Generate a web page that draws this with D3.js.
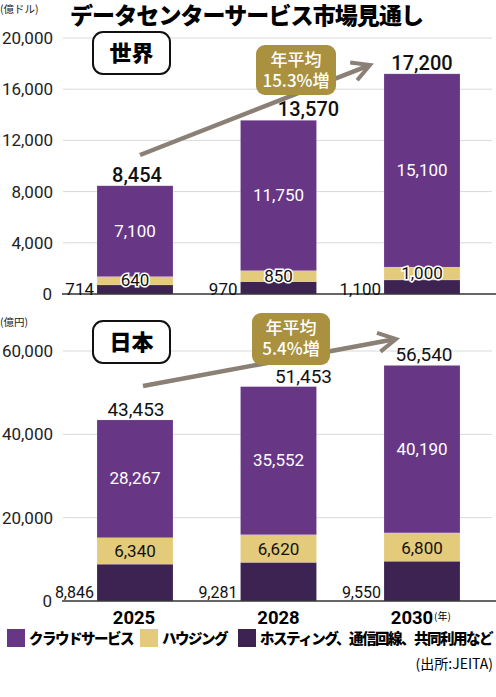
<!DOCTYPE html>
<meta charset="UTF-8">
<style>
  body { margin: 0; background: #fff; }
  svg { display: block; }
  text { font-family: "Noto Sans CJK JP", "Noto Sans", sans-serif; }
  .grid { stroke: #d9d9d9; stroke-width: 1; }
  .base { stroke: #333; stroke-width: 1.5; }
  .tick { font-family: Roboto, "Noto Sans", sans-serif; font-size: 17px; fill: #222; }
  .unit { font-size: 10.5px; fill: #222; }
</style>
<body>
<script src="https://d3js.org/d3.v7.min.js"></script>
<script>

// data
var years = ["2025", "2028", "2030"];
var seriesNames = ["クラウドサービス", "ハウジング", "ホスティング、通信回線、共同利用など"];

var worldHosting = [714, 970, 1100];
var worldHousing = [640, 850, 1000];
var worldCloud = [7100, 11750, 15100];
var worldTicks = [0, 4000, 8000, 12000, 16000, 20000];

var japanHosting = [8846, 9281, 9550];
var japanHousing = [6340, 6620, 6800];
var japanCloud = [28267, 35552, 40190];
var japanTicks = [0, 20000, 40000, 60000];

var colors = { cloud: "#673785", housing: "#e4ca7b", hosting: "#3c2352" };

var W = 496, H = 697;
var svg = d3.select("body").append("svg")
    .attr("width", W)
    .attr("height", H);

var fmt = d3.format(",");

// title
svg.append("text")
    .attr("x", 70).attr("y", 24)
    .style("font-size", "23px").style("font-weight", 900)
    .style("letter-spacing", "-0.9px")
    .text("データセンターサービス市場見通し");

var x = d3.scalePoint().domain(years).range([135, 422]);
var barW = 76;

function panel(opt) {
  var y = d3.scaleLinear().domain([0, opt.max]).range([opt.y0, opt.y1]);
  var g = svg.append("g");

  // unit
  g.append("text").attr("class", "unit")
      .attr("x", 0).attr("y", opt.unitY).text(opt.unit);

  // grid + ticks
  g.selectAll("line.grid").data(opt.ticks.filter(function(d) { return d > 0; }))
    .enter().append("line").attr("class", "grid")
      .attr("x1", 63).attr("x2", 492)
      .attr("y1", function(d) { return y(d); })
      .attr("y2", function(d) { return y(d); });

  g.selectAll("text.tick").data(opt.ticks)
    .enter().append("text").attr("class", "tick")
      .attr("x", function(d) { return d === 0 ? 52 : 53; })
      .attr("y", function(d) { return y(d) + 6; })
      .attr("text-anchor", "end")
      .text(function(d) { return fmt(d); });

  // stacked bars
  var rows = years.map(function(yr, i) {
    return { year: yr, hosting: opt.hosting[i], housing: opt.housing[i], cloud: opt.cloud[i] };
  });
  var stack = d3.stack().keys(["hosting", "housing", "cloud"])(rows);

  var layer = g.selectAll("g.layer").data(stack).enter().append("g")
      .attr("fill", function(d) { return colors[d.key]; });

  layer.selectAll("rect").data(function(d) { return d; })
    .enter().append("rect")
      .attr("x", function(d) { return x(d.data.year) - barW / 2; })
      .attr("width", barW)
      .attr("y", function(d) { return y(d[1]); })
      .attr("height", function(d) { return y(d[0]) - y(d[1]); })
      .attr("stroke", "rgba(255,255,255,0.25)")
      .attr("stroke-width", 0.6);

  // base line
  g.append("line").attr("class", "base")
      .attr("x1", 62).attr("x2", 496)
      .attr("y1", opt.y0).attr("y2", opt.y0);

  // hosting labels, left of bars
  g.selectAll("text.host").data(stack[0]).enter().append("text")
      .attr("x", function(d) { return x(d.data.year) - barW / 2 - 3; })
      .attr("y", opt.y0 + opt.hostDy)
      .attr("text-anchor", "end")
      .style("font-family", "Roboto, sans-serif")
      .style("font-size", opt.hostSize)
      .attr("fill", "#111")
      .text(function(d) { return fmt(d.data.hosting); });

  // housing labels
  g.selectAll("text.house").data(stack[1]).enter().append("text")
      .attr("x", function(d) { return x(d.data.year); })
      .attr("y", function(d) { return (y(d[0]) + y(d[1])) / 2 + opt.houseDy; })
      .attr("text-anchor", "middle")
      .attr("dominant-baseline", "middle")
      .style("font-family", "Roboto, sans-serif")
      .style("font-size", "17px")
      .attr("fill", "#111")
      .attr("stroke", opt.halo ? "#fff" : "none")
      .attr("stroke-width", 3)
      .attr("paint-order", "stroke")
      .text(function(d) { return fmt(d.data.housing); });

  // cloud labels
  g.selectAll("text.cloud").data(stack[2]).enter().append("text")
      .attr("x", function(d) { return x(d.data.year); })
      .attr("y", function(d) { return (y(d[0]) + y(d[1])) / 2 + 1; })
      .attr("text-anchor", "middle")
      .attr("dominant-baseline", "middle")
      .style("font-family", "Roboto, sans-serif")
      .style("font-size", "17px")
      .attr("fill", "#fff")
      .text(function(d) { return fmt(d.data.cloud); });

  // totals
  g.selectAll("text.total").data(stack[2]).enter().append("text")
      .attr("x", function(d, i) { return x(d.data.year) + opt.totalShift[i]; })
      .attr("y", function(d) { return y(d[1]) - 4; })
      .attr("text-anchor", "middle")
      .style("font-family", "Roboto, sans-serif")
      .style("font-size", opt.totalSize)
      .style("font-weight", opt.totalWeight)
      .attr("fill", "#111")
      .text(function(d) { return fmt(d[1]); });

  // region box
  g.append("rect")
      .attr("x", 93).attr("y", opt.boxY).attr("width", 77).attr("height", 42)
      .attr("rx", 10).attr("fill", "#fff").attr("stroke", "#111").attr("stroke-width", 2);
  g.append("text")
      .attr("x", 131.5).attr("y", opt.boxY + 29)
      .attr("text-anchor", "middle")
      .style("font-size", "22px").style("font-weight", 900)
      .text(opt.region);

  // growth arrow
  var a = opt.arrow;
  var ang = Math.atan2(a[3] - a[1], a[2] - a[0]);
  var hl = 20, hs = 0.5;
  g.append("path")
      .attr("d", "M" + a[0] + "," + a[1] + "L" + (a[2] - 3 * Math.cos(ang)) + "," + (a[3] - 3 * Math.sin(ang)))
      .attr("stroke", "#8b8075").attr("stroke-width", 4.5).attr("fill", "none");
  g.append("path")
      .attr("d", "M" + (a[2] - hl * Math.cos(ang - hs)) + "," + (a[3] - hl * Math.sin(ang - hs)) +
                 "L" + a[2] + "," + a[3] +
                 "L" + (a[2] - hl * Math.cos(ang + hs)) + "," + (a[3] - hl * Math.sin(ang + hs)))
      .attr("stroke", "#8b8075").attr("stroke-width", 4).attr("fill", "none")
      .attr("stroke-linejoin", "miter");

  // growth badge
  var b = opt.badge;
  g.append("rect")
      .attr("x", b[0]).attr("y", b[1]).attr("width", b[2]).attr("height", b[3])
      .attr("rx", 9).attr("fill", "#a9913f");
  g.append("text")
      .attr("x", b[0] + b[2] / 2).attr("y", b[1] + 21)
      .attr("text-anchor", "middle").attr("fill", "#fff")
      .style("font-size", "17px").style("font-weight", 500)
      .text("年平均");
  g.append("text")
      .attr("x", b[0] + b[2] / 2).attr("y", b[1] + 42)
      .attr("text-anchor", "middle").attr("fill", "#fff")
      .style("font-size", "17px").style("font-weight", 500)
      .text(opt.rate);
}

panel({
  max: 20000, y0: 294, y1: 38, ticks: worldTicks,
  hosting: worldHosting, housing: worldHousing, cloud: worldCloud,
  unit: "(億ドル)", unitY: 13, region: "世界", boxY: 32,
  hostDy: 1, hostSize: "17px", houseDy: 1, halo: true,
  totalShift: [2, 30, 0], totalSize: "20px", totalWeight: 500,
  arrow: [140, 155, 370, 65], badge: [256, 45, 80, 50], rate: "15.3%増"
});

panel({
  max: 60000, y0: 601, y1: 351, ticks: japanTicks,
  hosting: japanHosting, housing: japanHousing, cloud: japanCloud,
  unit: "(億円)", unitY: 326, region: "日本", boxY: 321,
  hostDy: -3, hostSize: "16px", houseDy: 2, halo: false,
  totalShift: [1, 25, 2], totalSize: "19px", totalWeight: 400,
  arrow: [143, 386, 396, 339], badge: [252, 313, 78, 52], rate: "5.4%増"
});

// x labels (2030 nudged left to leave room for the unit)
var yearShift = [-1, 0, -10];
svg.selectAll("text.year").data(years).enter().append("text")
    .attr("x", function(d, i) { return x(d) + yearShift[i]; })
    .attr("y", 624)
    .attr("text-anchor", "middle")
    .style("font-family", "Roboto, sans-serif")
    .style("font-size", "18.5px").style("font-weight", 700)
    .text(function(d) { return d; });
svg.append("text")
    .attr("x", 434).attr("y", 620)
    .style("font-size", "10px")
    .text("(年)");

// legend
var legendX = [7, 140, 238];
var legendColors = [colors.cloud, colors.housing, colors.hosting];
var lg = svg.selectAll("g.legend").data(seriesNames).enter().append("g")
    .attr("transform", function(d, i) { return "translate(" + legendX[i] + ",629)"; });
lg.append("rect")
    .attr("width", 18).attr("height", 18)
    .attr("fill", function(d, i) { return legendColors[i]; });
lg.append("text")
    .attr("x", 22).attr("y", 15)
    .style("font-size", "14.5px").style("font-weight", 900)
    .style("letter-spacing", "-1.5px")
    .text(function(d) { return d; });

// source
svg.append("text")
    .attr("x", 493).attr("y", 669)
    .attr("text-anchor", "end")
    .style("font-size", "14px")
    .text("(出所:JEITA)");

</script>
</body>
